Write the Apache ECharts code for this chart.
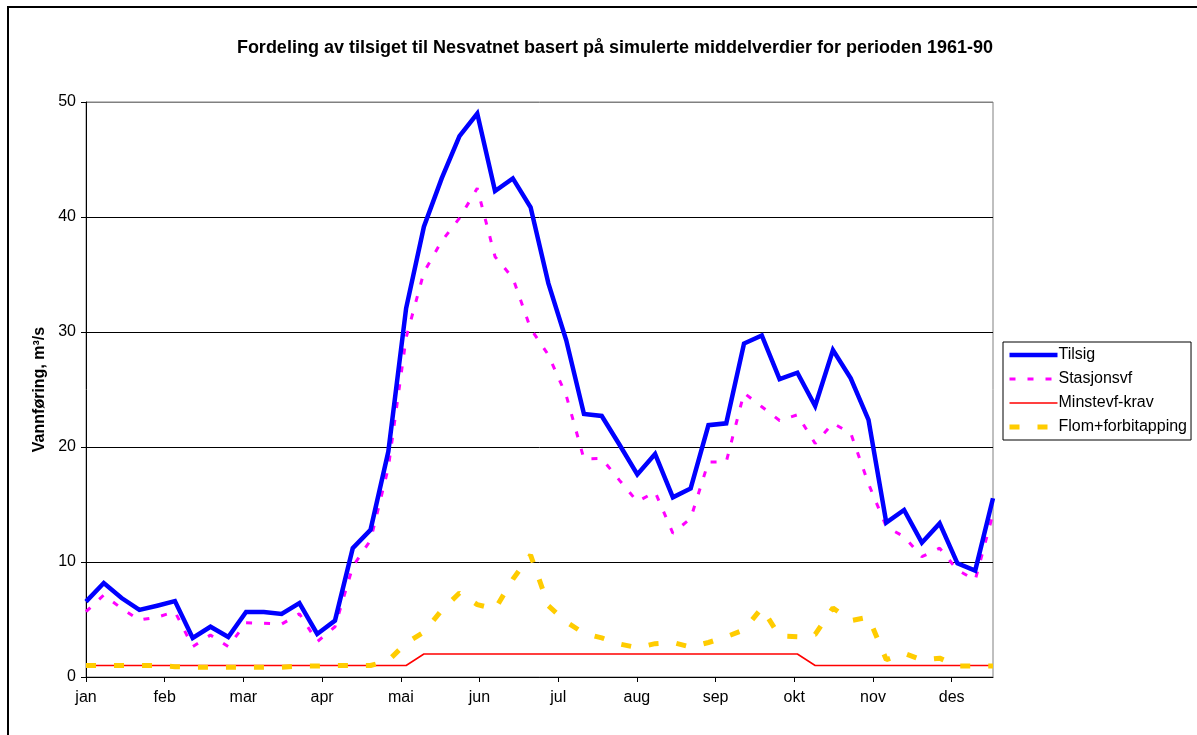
<!DOCTYPE html>
<html>
<head>
<meta charset="utf-8">
<script src="https://cdn.jsdelivr.net/npm/echarts@6/dist/echarts.min.js"></script>
<style>
  html, body { margin: 0; padding: 0; background: #fff; }
  #chart { width: 1197px; height: 735px; }
</style>
</head>
<body>
<div id="chart"></div>
<script>
// weekly values (52 weeks), m3/s
var months = ['jan', 'feb', 'mar', 'apr', 'mai', 'jun', 'jul', 'aug', 'sep', 'okt', 'nov', 'des'];
var yTicks = [0, 10, 20, 30, 40, 50];

var tilsig = [6.55, 8.17, 6.87, 5.83, 6.2, 6.6, 3.4, 4.37, 3.48, 5.65,
  5.65, 5.48, 6.43, 3.74, 4.9, 11.2, 12.8, 19.6, 32.06, 39.16,
  43.36, 47.04, 49.0, 42.26, 43.36, 40.84, 34.23, 29.3, 22.87, 22.7,
  20.2, 17.62, 19.39, 15.62, 16.4, 21.9, 22.06, 29.0, 29.7, 25.9,
  26.46, 23.57, 28.43, 25.97, 22.35, 13.42, 14.52, 11.68, 13.36, 9.88,
  9.25, 15.54];

var stasjonsvf = [5.68, 7.13, 5.97, 4.96, 5.2, 5.68, 2.64, 3.65, 2.64, 4.72,
  4.67, 4.6, 5.5, 3.07, 4.37, 9.6, 11.9, 18.2, 29.5, 35.2,
  37.9, 39.9, 42.5, 36.55, 34.7, 30.3, 28.0, 24.5, 18.96, 19.0,
  17.1, 15.25, 16.1, 12.5, 13.8, 18.7, 18.7, 24.7, 23.5, 22.3,
  22.8, 20.3, 22.06, 21.2, 16.8, 13.07, 12.2, 10.46, 11.2, 9.3,
  8.43, 14.2];

var minstevf = [1, 1, 1, 1, 1, 1, 1, 1, 1, 1,
  1, 1, 1, 1, 1, 1, 1, 1, 1, 2,
  2, 2, 2, 2, 2, 2, 2, 2, 2, 2,
  2, 2, 2, 2, 2, 2, 2, 2, 2, 2,
  2, 1, 1, 1, 1, 1, 1, 1, 1, 1,
  1, 1];

var flom = [1.0, 1.0, 1.0, 1.0, 1.0, 0.9, 0.85, 0.85, 0.85, 0.85,
  0.85, 0.85, 0.95, 0.95, 1.0, 1.0, 1.0, 1.43, 2.95, 3.9,
  5.8, 7.3, 6.3, 5.9, 8.5, 10.6, 6.2, 4.8, 3.8, 3.4,
  2.87, 2.55, 2.9, 3.0, 2.6, 3.0, 3.5, 4.1, 6.0, 3.56,
  3.5, 3.7, 6.0, 4.9, 5.2, 1.5, 2.06, 1.48, 1.64, 0.95,
  0.95, 0.95];

function pairs(arr) {
  return arr.map(function (v, i) { return [i, v]; });
}

var chart = echarts.init(document.getElementById('chart'));
var font = 'Liberation Sans, Arial, sans-serif';

var option = {
  backgroundColor: '#fff',
  animation: false,
  textStyle: { fontFamily: font },
  title: {
    text: 'Fordeling av tilsiget til Nesvatnet basert på simulerte middelverdier for perioden 1961-90',
    left: 610,
    textAlign: 'center',
    top: 34,
    textStyle: { fontSize: 18, fontWeight: 'bold', color: '#000', fontFamily: font }
  },
  graphic: [{
    type: 'rect',
    shape: { x: 8, y: 7, width: 1200, height: 800 },
    style: { fill: 'none', stroke: '#000', lineWidth: 2 },
    silent: true
  }],
  legend: {
    orient: 'vertical',
    left: 1003,
    top: 342,
    padding: [5, 4, 5, 4],
    itemGap: 8,
    itemWidth: 48,
    itemHeight: 14,
    borderColor: '#000',
    borderWidth: 1,
    itemStyle: { opacity: 0 },
    lineStyle: { width: 'inherit' },
    textStyle: { fontSize: 16, color: '#000', fontFamily: font, padding: [0, 0, 0, -4] },
    data: ['Tilsig', 'Stasjonsvf', 'Minstevf-krav', 'Flom+forbitapping']
  },
  grid: {
    left: 86,
    right: 204,
    top: 102,
    bottom: 58,
    show: true,
    borderColor: '#808080',
    borderWidth: 1
  },
  xAxis: [{
    type: 'value',
    min: 0,
    max: 51,
    show: false
  }, {
    type: 'value',
    min: 0,
    max: 11.525,
    position: 'bottom',
    axisLine: { show: true, lineStyle: { color: '#000', width: 1 } },
    axisTick: { show: true, length: 5, lineStyle: { color: '#000' }, customValues: [0, 1, 2, 3, 4, 5, 6, 7, 8, 9, 10, 11] },
    axisLabel: {
      customValues: [0, 1, 2, 3, 4, 5, 6, 7, 8, 9, 10, 11],
      formatter: function (v) { return months[Math.round(v)] || ''; },
      color: '#000',
      fontSize: 16,
      margin: 13,
      fontFamily: font
    },
    splitLine: { show: false }
  }],
  yAxis: {
    type: 'value',
    min: yTicks[0],
    max: yTicks[yTicks.length - 1],
    interval: 10,
    name: 'Vannføring, m³/s',
    nameLocation: 'middle',
    nameGap: 38,
    nameTextStyle: { fontSize: 16, fontWeight: 'bold', color: '#000', fontFamily: font },
    axisLine: { show: true, lineStyle: { color: '#000', width: 1 } },
    axisTick: { show: true, length: 5, lineStyle: { color: '#000' } },
    axisLabel: { color: '#000', fontSize: 16, margin: 10, fontFamily: font },
    splitLine: {
      show: true,
      lineStyle: { color: ['#000', '#000', '#000', '#000', '#000', '#808080'], width: 1 }
    }
  },
  series: [{
    name: 'Tilsig',
    type: 'line',
    xAxisIndex: 0,
    data: pairs(tilsig),
    symbol: 'none',
    lineStyle: { color: '#0000ff', width: 4.5, join: 'miter' },
    itemStyle: { color: '#0000ff' },
    z: 3
  }, {
    name: 'Stasjonsvf',
    type: 'line',
    xAxisIndex: 0,
    data: pairs(stasjonsvf),
    symbol: 'none',
    lineStyle: { color: '#ff00ff', width: 3, type: [6, 12], cap: 'butt' },
    itemStyle: { color: '#ff00ff' },
    z: 2
  }, {
    name: 'Minstevf-krav',
    type: 'line',
    xAxisIndex: 0,
    data: pairs(minstevf),
    symbol: 'none',
    lineStyle: { color: '#ff0000', width: 1.5 },
    itemStyle: { color: '#ff0000' },
    z: 4
  }, {
    name: 'Flom+forbitapping',
    type: 'line',
    xAxisIndex: 0,
    data: pairs(flom),
    symbol: 'none',
    lineStyle: { color: '#ffcc00', width: 5, type: [10, 18], cap: 'butt' },
    itemStyle: { color: '#ffcc00' },
    z: 5
  }]
};

chart.setOption(option);
</script>
</body>
</html>
